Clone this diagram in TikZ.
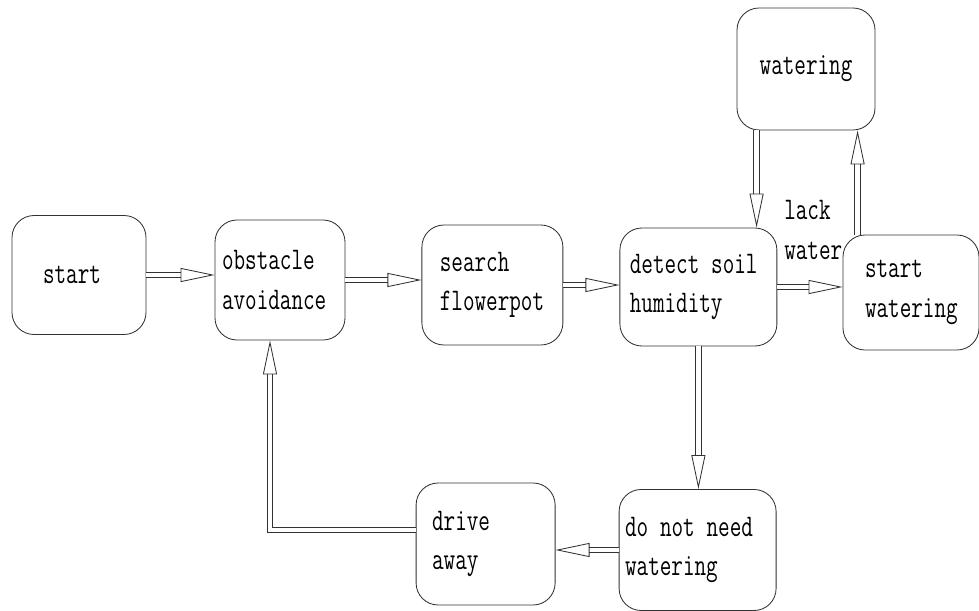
\documentclass[tikz,border=0pt]{standalone}
\usepackage{tikz}
\usepackage{xcolor}
\definecolor{base02}{RGB}{50, 50, 50}
\usetikzlibrary{calc,arrows.meta,positioning}
\newcommand{\tallt}[1]{\scalebox{1}[1.4]{\spaceskip=0.525em\relax #1}}

\begin{document}
\begin{tikzpicture}[x=1cm, y=-1cm,
    every node/.style={font=\fontsize{16}{28}\selectfont\ttfamily},
    box/.style={draw=base02, line width=0.6pt, rounded corners=0.55cm, align=left},
    dbl/.style={draw=base02, line width=0.6pt, double, double distance=3.5pt,
                -{Triangle[open, length=0.85cm, width=0.35cm]}}]
    \useasboundingbox (0,0) rectangle (24.475,15.275);

    \node[box, minimum width=3.35cm, minimum height=2.975cm, align=center]
        (start) at (1.975,6.875) {\tallt{start}\hspace{0.35cm}};
    \node[box, minimum width=3.25cm, minimum height=3cm,
          text width=2.9cm, inner xsep=0.175cm]
        (obst) at (7,7) {\tallt{obstacle}\\\tallt{avoidance}};
    \node[box, minimum width=3.525cm, minimum height=3cm,
          text width=2.625cm, inner xsep=0.45cm]
        (search) at (12.31,7.125) {\tallt{search}\\\tallt{flowerpot}};
    \node[box, minimum width=3.925cm, minimum height=2.95cm,
          text width=3.425cm, inner xsep=0.25cm]
        (detect) at (17.46,7.175) {\tallt{detect soil}\\\tallt{humidity}};
    \node[box, minimum width=3.45cm, minimum height=3.05cm, align=center]
        (water) at (20.15,1.725) {\tallt{watering}};
    \node[box, minimum width=3.4cm, minimum height=2.875cm,
          text width=2.3cm, inner xsep=0.55cm]
        (startw) at (22.775,7.3125) {\tallt{start}\\\tallt{watering}};
    \node[box, minimum width=3.925cm, minimum height=3.025cm,
          text width=3.625cm, inner xsep=0.15cm]
        (noneed) at (17.44,13.75) {\tallt{do not need}\\\tallt{watering}};
    \node[box, minimum width=3.475cm, minimum height=3.05cm,
          text width=2.675cm, inner xsep=0.4cm]
        (drive) at (12.14,13.6) {\tallt{drive}\\\tallt{away}};

    \node[align=left, anchor=west, inner sep=0pt]
        (lack) at (19.6,5.75) {\tallt{lack}\\\tallt{water}};

    \draw[dbl] (start.east) -- (start.east -| obst.west);
    \draw[dbl] (obst.east) -- (obst.east -| search.west);
    \draw[dbl] (search.east) -- (search.east -| detect.west);
    \draw[dbl] (detect.east) -- (detect.east -| startw.west);
    \draw[dbl] ([xshift=0.375cm]startw.north west)
               -- ([xshift=0.375cm]startw.north west |- water.south);
    \draw[dbl] ([xshift=0.5cm]water.south west)
               -- ([xshift=0.5cm]water.south west |- detect.north);
    \draw[dbl] (detect.south) -- (detect.south |- noneed.north);
    \draw[dbl] (noneed.west) -- (noneed.west -| drive.east);
    \draw[dbl] ([yshift=0.35cm]drive.west) -| ([xshift=-0.25cm]obst.south);
\end{tikzpicture}
\end{document}
